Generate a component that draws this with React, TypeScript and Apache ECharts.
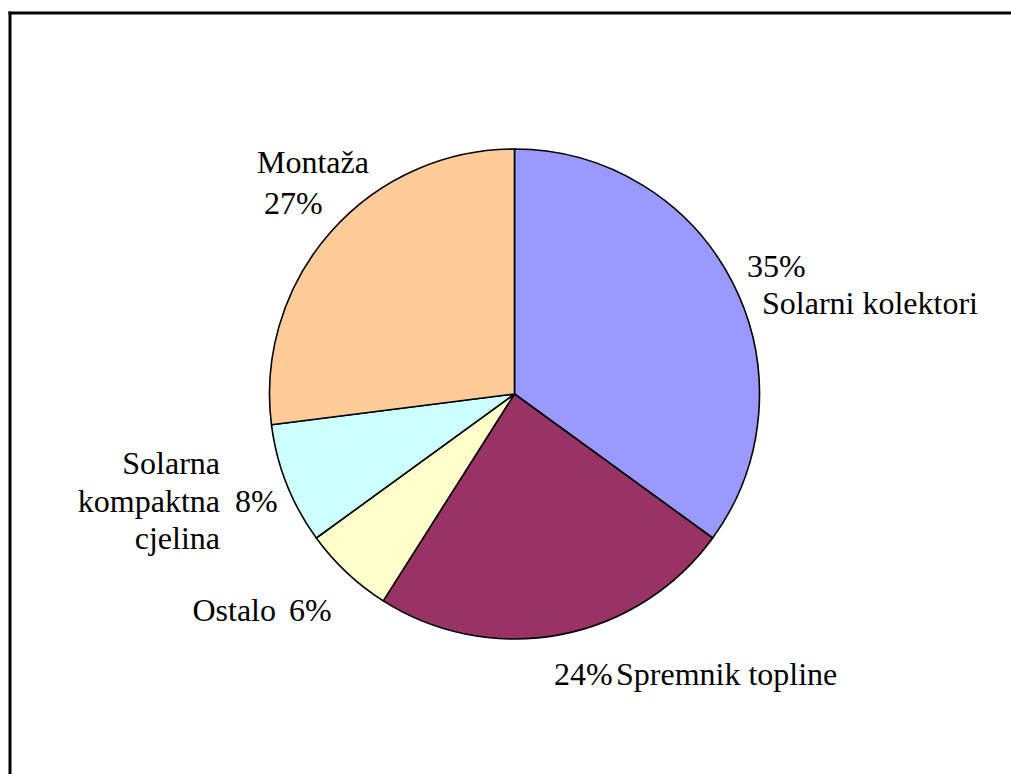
import React, { useEffect, useRef } from "react";
import * as echarts from "echarts";

const categories = ["Solarni kolektori", "Spremnik topline", "Ostalo", "Solarna kompaktna cjelina", "Montaža"];
const values = [35, 24, 6, 8, 27];
const colors = ["#9999FF", "#993366", "#FFFFCC", "#CCFFFF", "#FFCC99"];

const FONT = "Liberation Serif";
const FS = 32;

function txt(text: string, x: number, y: number, align: string) {
  return {
    type: "text",
    x,
    y,
    silent: true,
    style: {
      text,
      fill: "#000",
      fontFamily: FONT,
      fontSize: FS,
      align,
      verticalAlign: "middle",
    },
  };
}

export default function App() {
  const ref = useRef<HTMLDivElement>(null);
  useEffect(() => {
    document.body.style.margin = "0";
    document.body.style.overflow = "hidden";
    if (!ref.current) return;
    const chart = echarts.init(ref.current, undefined, { renderer: "svg" });
    const pct = values.map((v) => `${v}%`);
    const option = {
      animation: false,
      backgroundColor: "#fff",
      graphic: [
        {
          type: "line",
          shape: { x1: 10, y1: 11.5, x2: 10, y2: 800 },
          style: { stroke: "#000", lineWidth: 3 },
          silent: true,
        },
        {
          type: "line",
          shape: { x1: 8.5, y1: 13, x2: 1011, y2: 13 },
          style: { stroke: "#000", lineWidth: 3 },
          silent: true,
        },
        txt(pct[0], 747, 266, "left"),
        txt("Solarni kolektori", 762, 303, "left"),
        txt(pct[1], 554, 674, "left"),
        txt("Spremnik topline", 616, 674, "left"),
        txt("Ostalo", 276, 610, "right"),
        txt(pct[2], 289, 610, "left"),
        txt("Solarna", 220, 463, "right"),
        txt("kompaktna", 220, 501, "right"),
        txt("cjelina", 220, 538, "right"),
        txt(pct[3], 235, 501, "left"),
        txt("Montaža", 257, 162, "left"),
        txt(pct[4], 264, 203, "left"),
      ],
      series: [
        {
          type: "pie",
          center: [514.5, 394],
          radius: 245,
          startAngle: 90,
          clockwise: true,
          silent: true,
          label: { show: false },
          labelLine: { show: false },
          emphasis: { disabled: true },
          itemStyle: { borderColor: "#000", borderWidth: 1.6 },
          data: categories.map((name, i) => ({
            name,
            value: values[i],
            itemStyle: { color: colors[i] },
          })),
        },
      ],
    };
    chart.setOption(option as any);
    return () => chart.dispose();
  }, []);
  return (
    <div
      ref={ref}
      style={{ position: "fixed", left: 0, top: 0, width: 1011, height: 774 }}
    />
  );
}
